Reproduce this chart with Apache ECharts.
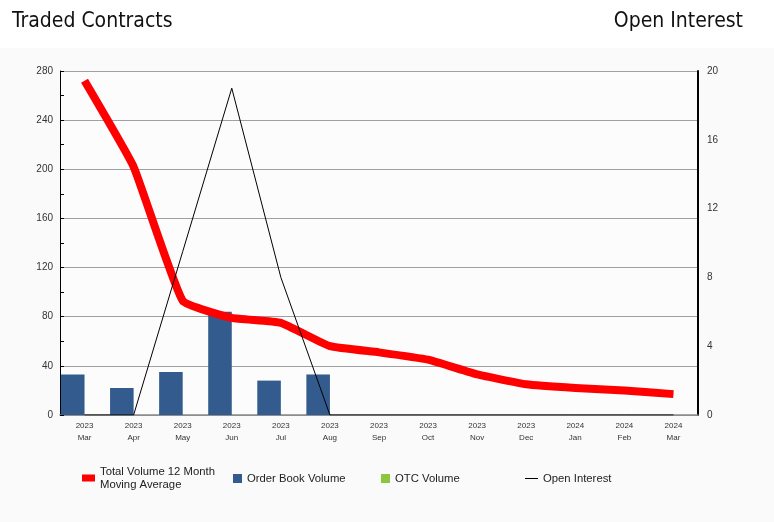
<!DOCTYPE html>
<html>
<head>
<meta charset="utf-8">
<script src="https://cdn.jsdelivr.net/npm/echarts@6/dist/echarts.min.js"></script>
<style>
html,body{margin:0;padding:0;}
body{background:linear-gradient(#ffffff 0px,#ffffff 48px,#fafafa 48px,#fafafa 100%);}
#c{width:774px;height:522px;}
</style>
</head>
<body>
<div id="c"></div>
<script>
const categories = ['2023\nMar','2023\nApr','2023\nMay','2023\nJun','2023\nJul','2023\nAug','2023\nSep','2023\nOct','2023\nNov','2023\nDec','2024\nJan','2024\nFeb','2024\nMar'];
const movingAverage = [272, 202, 93, 79, 75, 56, 51, 45, 33, 25, 22, 20, 17];
const orderBookVolume = [33, 22, 35, 84, 28, 33, 0, 0, 0, 0, 0, 0, 0];
const otcVolume = [0, 0, 0, 0, 0, 0, 0, 0, 0, 0, 0, 0, 0];
const openInterest = [0, 0, 9.5, 19, 8, 0, 0, 0, 0, 0, 0, 0, 0];
const leftTicks = {min: 0, max: 280, interval: 40};
const rightTicks = {min: 0, max: 20, interval: 4};

const chart = echarts.init(document.getElementById('c'));
const legendText = {fontFamily: 'Arial, Liberation Sans', fontSize: 11.3, color: '#222', lineHeight: 13};
chart.setOption({
  animation: false,
  backgroundColor: 'transparent',
  title: [
    {text: 'Traded Contracts', left: 7, top: 6, textStyle: {fontFamily: 'DejaVu Sans Condensed, DejaVu Sans', fontSize: 21, fontWeight: 'normal', color: '#111'}},
    {text: 'Open Interest', right: 26, top: 6, textStyle: {fontFamily: 'DejaVu Sans Condensed, DejaVu Sans', fontSize: 21, fontWeight: 'normal', color: '#111'}}
  ],
  grid: {left: 60, right: 76, top: 71, bottom: 107, show: true, backgroundColor: '#fcfcfc', borderWidth: 0},
  legend: [
    {data: ['Total Volume 12 Month\nMoving Average'], left: 82, top: 465, icon: 'rect', itemWidth: 13, itemHeight: 7, itemGap: 0, textStyle: legendText, padding: 0},
    {data: ['Order Book Volume'], left: 233, top: 472, icon: 'rect', itemWidth: 9, itemHeight: 9, textStyle: legendText, padding: 0},
    {data: ['OTC Volume'], left: 381, top: 472, icon: 'rect', itemWidth: 9, itemHeight: 9, textStyle: legendText, padding: 0},
    {data: ['Open Interest'], left: 525, top: 472, icon: 'rect', itemWidth: 13, itemHeight: 1, textStyle: legendText, padding: 0}
  ],
  xAxis: {
    type: 'category',
    data: categories,
    boundaryGap: true,
    axisLine: {show: true, lineStyle: {color: '#888', width: 1.5}},
    axisTick: {show: false},
    axisLabel: {fontFamily: 'Arial, Liberation Sans', fontSize: 8, color: '#333', lineHeight: 12, margin: 5, interval: 0}
  },
  yAxis: [
    {
      type: 'value', min: leftTicks.min, max: leftTicks.max, interval: leftTicks.interval,
      axisLine: {show: true, lineStyle: {color: '#000', width: 1}},
      axisTick: {show: true, inside: true, length: 4, lineStyle: {color: '#000'}},
      minorTick: {show: true, splitNumber: 2, length: 4, lineStyle: {color: '#000'}},
      splitLine: {show: true, lineStyle: {color: '#a0a0a0', width: 1}},
      axisLabel: {fontFamily: 'Arial, Liberation Sans', fontSize: 10, color: '#333', margin: 7}
    },
    {
      type: 'value', min: rightTicks.min, max: rightTicks.max, interval: rightTicks.interval,
      position: 'right',
      axisLine: {show: true, lineStyle: {color: '#000', width: 2}},
      axisTick: {show: false},
      splitLine: {show: false},
      axisLabel: {fontFamily: 'Arial, Liberation Sans', fontSize: 10, color: '#333', margin: 9}
    }
  ],
  series: [
    {name: 'Order Book Volume', type: 'bar', data: orderBookVolume, yAxisIndex: 0, barGap: '0%', barCategoryGap: '4%', itemStyle: {color: '#335b8d'}, z: 1},
    {name: 'OTC Volume', type: 'bar', data: otcVolume, yAxisIndex: 0, barGap: '0%', barCategoryGap: '4%', itemStyle: {color: '#8cc63f'}, z: 1},
    {name: 'Total Volume 12 Month\nMoving Average', type: 'line', data: movingAverage, yAxisIndex: 0, smooth: 0.12, symbol: 'none', lineStyle: {color: '#ff0000', width: 8, join: 'round'}, itemStyle: {color: '#ff0000'}, z: 3},
    {name: 'Open Interest', type: 'line', data: openInterest, yAxisIndex: 1, symbol: 'none', lineStyle: {color: '#000', width: 1}, itemStyle: {color: '#000'}, z: 4}
  ]
});
</script>
</body>
</html>
